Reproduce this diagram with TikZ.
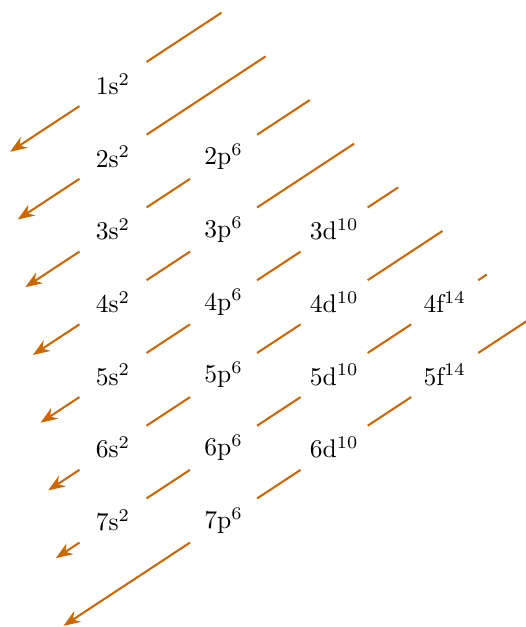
\documentclass[tikz,border=0pt]{standalone}
\usetikzlibrary{arrows.meta}
\begin{document}
\begin{tikzpicture}[x=1.52cm, y=1cm,
  orb/.style={circle, minimum size=1.09cm, inner sep=0pt},
  diag/.style={-Stealth, thick, draw=orange!80!black}
]
\useasboundingbox (-1.022,-7.464) rectangle (3.726,1.155);

% orbitals
\foreach \n in {1,...,7} \node[orb] (s\n) at (0,1-\n) {\n{}s$^{2}$};
\foreach \n in {2,...,7} \node[orb] (p\n) at (1,1-\n) {\n{}p$^{6}$};
\foreach \n in {3,...,6} \node[orb] (d\n) at (2,1-\n) {\n{}d$^{10}$};
\foreach \n in {4,5} \node[orb] (f\n) at (3,1-\n) {\n{}f$^{14}$};

% ends of the diagonals
\foreach \k in {1,...,8} {
  \coordinate (t\k) at ({0.58+0.4*\k}, {1.58-0.6*\k});
  \coordinate (e\k) at ({-1+0.069*\k}, {-0.931*\k});
}

\draw[diag] (t1) -- (s1) -- (e1);
\draw[diag] (t2) -- (s2) -- (e2);
\draw[diag] (t3) -- (p2) -- (s3) -- (e3);
\draw[diag] (t4) -- (p3) -- (s4) -- (e4);
\draw[diag] (t5) -- (d3) -- (p4) -- (s5) -- (e5);
\draw[diag] (t6) -- (d4) -- (p5) -- (s6) -- (e6);
\draw[diag] (t7) -- (f4) -- (d5) -- (p6) -- (s7) -- (e7);
\draw[diag] (t8) -- (f5) -- (d6) -- (p7) -- (e8);
\end{tikzpicture}
\end{document}
